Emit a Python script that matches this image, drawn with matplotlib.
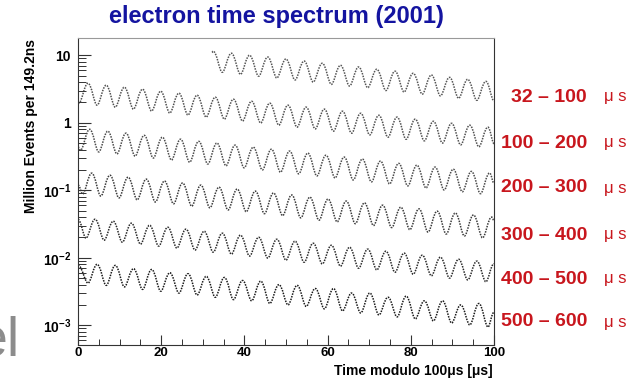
import numpy as np
import matplotlib
matplotlib.use("Agg")
import matplotlib.pyplot as plt
from matplotlib.path import Path
from matplotlib.patches import PathPatch
from matplotlib.ticker import FixedLocator, MultipleLocator, LogLocator, NullFormatter

plt.rcParams["font.family"] = ["Liberation Sans", "DejaVu Sans"]
plt.rcParams["mathtext.fontset"] = "custom"
plt.rcParams["mathtext.rm"] = "Liberation Sans"
plt.rcParams["mathtext.bf"] = "Liberation Sans:bold"

# --- data ---
half_period = 2.185      # us between a peak and the next trough

row_labels = ["32 – 100", "100 – 200", "200 – 300", "300 – 400", "400 – 500", "500 – 600"]
row_first_is_peak = [True, False, False, False, False, False]
row_t_first = [32.5, 0.215, 0.615, 1.115, 1.915, 2.415]   # first extremum
row_t_start = [32.2, 0.0, 0.0, 0.0, 0.0, 0.0]
row_v_start = [11.0, 1.98, 0.44, 0.12, 0.037, 0.0078]
row_v_end = [2.1, 0.49, 0.126, 0.0356, 0.00815, 0.00156]   # value at t = 100

peaks_1 = [11.5, 10.7, 10.0, 9.4, 8.8, 8.2, 7.6, 7.1, 6.7, 6.2, 5.8, 5.4, 5.1, 4.7, 4.4, 4.1]
troughs_1 = [5.6, 5.2, 4.9, 4.6, 4.3, 4.0, 3.7, 3.5, 3.3, 3.0, 2.85, 2.65, 2.5, 2.3, 2.15]

peaks_2 = [3.85, 3.60, 3.36, 3.14, 2.93, 2.74, 2.56, 2.39, 2.23, 2.08, 1.95, 1.82,
           1.70, 1.59, 1.48, 1.38, 1.29, 1.21, 1.13, 1.05, 0.98, 0.92, 0.86]
troughs_2 = [1.95, 1.82, 1.70, 1.59, 1.49, 1.39, 1.30, 1.21, 1.13, 1.06, 0.99, 0.92,
             0.86, 0.81, 0.75, 0.70, 0.66, 0.61, 0.57, 0.54, 0.50, 0.47, 0.44]

peaks_3 = [0.80, 0.75, 0.70, 0.65, 0.61, 0.57, 0.53, 0.50, 0.465, 0.435, 0.405, 0.38,
           0.355, 0.33, 0.31, 0.29, 0.27, 0.25, 0.235, 0.22, 0.205, 0.19, 0.18]
troughs_3 = [0.39, 0.37, 0.345, 0.32, 0.30, 0.28, 0.26, 0.245, 0.23, 0.215, 0.20, 0.185,
             0.175, 0.163, 0.152, 0.142, 0.133, 0.124, 0.116, 0.108, 0.101, 0.095, 0.089]

peaks_4 = [0.179, 0.167, 0.156, 0.146, 0.137, 0.128, 0.119, 0.111, 0.104, 0.097, 0.091, 0.085,
           0.079, 0.074, 0.069, 0.065, 0.060, 0.056, 0.053, 0.049, 0.046, 0.043, 0.040]
troughs_4 = [0.088, 0.082, 0.077, 0.072, 0.067, 0.063, 0.058, 0.055, 0.051, 0.048, 0.045, 0.042,
             0.039, 0.036, 0.034, 0.032, 0.030, 0.028, 0.026, 0.024, 0.0225, 0.021, 0.0197]

peaks_5 = [0.0372, 0.0348, 0.0325, 0.0303, 0.0283, 0.0265, 0.0247, 0.0231, 0.0216, 0.0201, 0.0188,
           0.0176, 0.0164, 0.0153, 0.0143, 0.0134, 0.0125, 0.0117, 0.0109, 0.0102, 0.0095, 0.0089]
troughs_5 = [0.0195, 0.0182, 0.0170, 0.0159, 0.0149, 0.0139, 0.0130, 0.0121, 0.0113, 0.0106, 0.0099,
             0.0092, 0.0086, 0.0081, 0.0075, 0.0070, 0.0066, 0.0061, 0.0057, 0.0054, 0.0050, 0.0047, 0.0044]

peaks_6 = [0.0080, 0.0077, 0.0069, 0.0067, 0.0060, 0.0058, 0.0053, 0.0051, 0.0046, 0.0045, 0.0040,
           0.0039, 0.0035, 0.0035, 0.0030, 0.0030, 0.0026, 0.0027, 0.0023, 0.0023, 0.0020, 0.0021]
troughs_6 = [0.0042, 0.0039, 0.0037, 0.0034, 0.0032, 0.0030, 0.0028, 0.0026, 0.0024, 0.0023, 0.0021,
             0.0020, 0.0019, 0.00175, 0.00163, 0.00152, 0.00142, 0.00133, 0.00124, 0.00116, 0.00108,
             0.00101, 0.00094]

row_peaks = [peaks_1, peaks_2, peaks_3, peaks_4, peaks_5, peaks_6]
row_troughs = [troughs_1, troughs_2, troughs_3, troughs_4, troughs_5, troughs_6]
row_colors = ["#555555", "#505050", "#4a4a4a", "#3a3a3a", "#2a2a2a", "#1a1a1a"]

label_y_px = [97, 143, 188, 235, 279, 322]


def interleave(peaks, troughs, first_is_peak):
    a, b = (peaks, troughs) if first_is_peak else (troughs, peaks)
    out = []
    for i in range(len(a)):
        out.append(a[i])
        if i < len(b):
            out.append(b[i])
    return out


def wiggle_path(t, v):
    # smooth half-waves with flat tangents at every extremum
    verts = [(t[0], v[0])]
    codes = [Path.MOVETO]
    for i in range(len(t) - 1):
        dt = t[i + 1] - t[i]
        down = v[i] > v[i + 1]
        c0, c1 = (0.40, 0.32) if down else (0.32, 0.40)
        verts += [(t[i] + c0 * dt, v[i]), (t[i + 1] - c1 * dt, v[i + 1]), (t[i + 1], v[i + 1])]
        codes += [Path.CURVE4] * 3
    return Path(verts, codes)


fig = plt.figure(figsize=(6.3, 3.79), dpi=100)
ax = fig.add_axes([78 / 630, 1 - 345 / 379, (494 - 78) / 630, (345 - 38) / 379])
ax.set_yscale("log")
ax.set_xlim(0, 100)
ax.set_ylim(5.1e-4, 18)

for i in range(6):
    ext = interleave(row_peaks[i], row_troughs[i], row_first_is_peak[i])
    t_ext = row_t_first[i] + half_period * np.arange(len(ext))
    t = np.concatenate([[row_t_start[i]], t_ext, [100.0]])
    v = np.concatenate([[row_v_start[i]], ext, [row_v_end[i]]])
    ax.add_patch(PathPatch(wiggle_path(t, v), fill=False, ec=row_colors[i],
                           lw=1.1, ls=(0, (1.0, 0.8))))

# axes styling
for s in ["left", "bottom", "right"]:
    ax.spines[s].set_color("#333333")
ax.spines["top"].set_color("#999999")

ax.xaxis.set_major_locator(MultipleLocator(20))
ax.xaxis.set_minor_locator(MultipleLocator(5))
ax.yaxis.set_major_locator(FixedLocator([1e-3, 1e-2, 1e-1, 1, 10]))
ax.yaxis.set_minor_locator(LogLocator(base=10, subs=np.arange(2, 10)))
ax.yaxis.set_minor_formatter(NullFormatter())
ax.set_yticklabels([r"$\mathbf{10^{-3}}$", r"$\mathbf{10^{-2}}$", r"$\mathbf{10^{-1}}$",
                    "1", "10"])
ax.tick_params(which="both", direction="in", top=False, right=False, color="#333333")
ax.tick_params(axis="y", which="major", length=9.5, width=0.8, labelsize=10, pad=5)
ax.tick_params(axis="y", which="minor", length=5.5, width=0.7)
ax.tick_params(axis="x", which="major", length=7, width=0.8, labelsize=9.5, pad=1.5)
ax.tick_params(axis="x", which="minor", length=4.5, width=0.7)
for lab in ax.get_xticklabels() + ax.get_yticklabels():
    lab.set_fontweight("bold")

fig.text(276 / 630, 1 - 17 / 379, "electron time spectrum (2001)", ha="center", va="center",
         fontsize=17, fontweight="bold", color="#1414a0")
fig.text(31 / 630, 1 - 126 / 379, "Million Events per 149.2ns", rotation=90,
         ha="center", va="center", fontsize=10, fontweight="bold")
fig.text(493 / 630, 1 - 371 / 379, "Time modulo 100μs [μs]", ha="right", va="center",
         fontsize=10, fontweight="bold")

red = "#c8161d"
for lab, ypx in zip(row_labels, label_y_px):
    fig.text(587 / 630, 1 - ypx / 379, lab, ha="right", va="center",
             fontsize=14, fontweight="bold", color=red)
    fig.text(604 / 630, 1 - ypx / 379, "μ s", ha="left", va="center",
             fontsize=12, color=red)

fig.text(20 / 630, 1 - 355 / 379, "el", ha="right", va="baseline",
         fontsize=40, color="#8c8c8c")

fig.savefig("out.png", dpi=100)
